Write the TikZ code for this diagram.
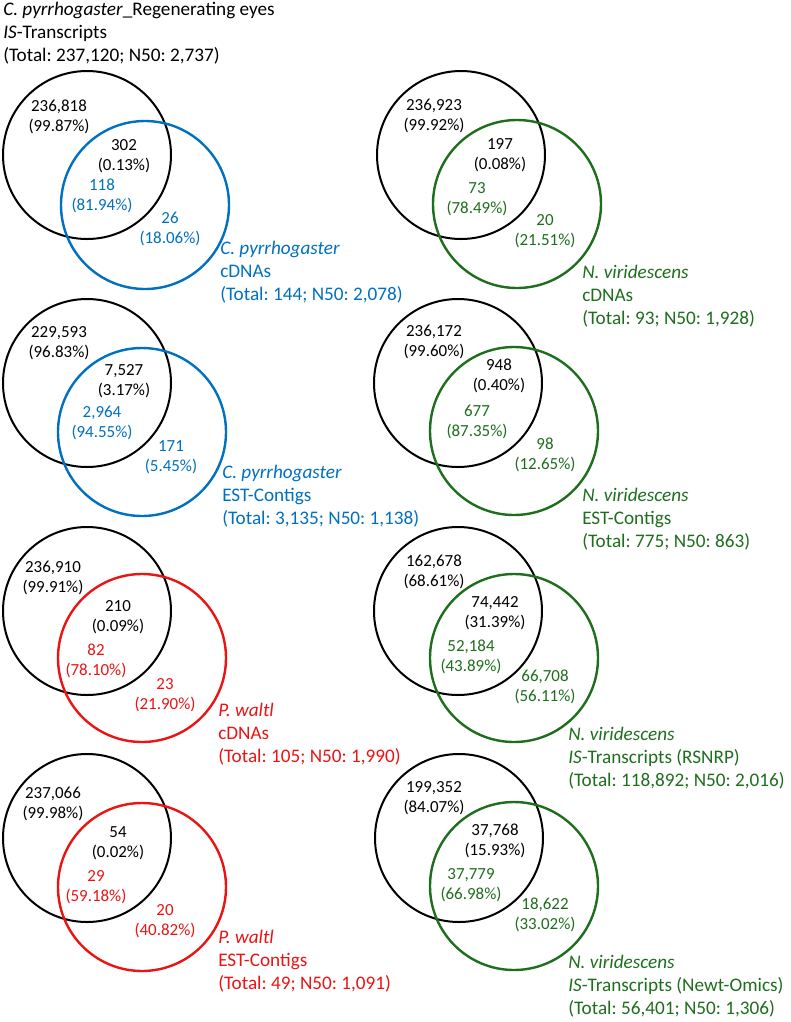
\documentclass[tikz,border=0pt]{standalone}
\usepackage{fontspec}
\setmainfont{Carlito}
\definecolor{vblue}{RGB}{0,112,192}
\definecolor{vgreen}{RGB}{30,110,30}
\definecolor{vred}{RGB}{235,20,20}
\newcommand\vnnumfont{\fontsize{12.7}{15.3}\selectfont}
\newcommand\vnlabfont{\fontsize{14.4}{17}\selectfont}
\frenchspacing
\begin{document}
\begin{tikzpicture}[x=0.75pt,y=-0.75pt,
  bc/.style={circle,draw=black,line width=1.5pt,minimum size=126pt,inner sep=0pt},
  cc/.style={circle,line width=1.8pt,minimum size=126pt,inner sep=0pt},
  num/.style={align=center,font=\vnnumfont,inner sep=0pt},
  lab/.style={align=left,anchor=west,font=\vnlabfont,inner sep=0pt}]
\fill[white] (0,0) rectangle (790,1022);
\useasboundingbox (0,0) rectangle (790,1022);

% header
\node[lab] (hd) at (3,33) {\textit{C. pyrrhogaster}\_Regenerating eyes\\\textit{IS}-Transcripts\\(Total: 237,120; N50: 2,737)};

% Panel L1
\node[bc] (L1a) at (87,155) {};
\node[cc,draw=vblue] (L1b) at (145,205) {};
\node[num] (L1n1) at (59,117) {236,818\\(99.87\%)};
\node[num] (L1n2) at (124,156) {302\\(0.13\%)};
\node[num,text=vblue] (L1n3) at (102,196) {118\\(81.94\%)};
\node[num,text=vblue] (L1n4) at (170,229) {26\\(18.06\%)};
\node[lab,text=vblue] (L1l) at (220,272) {\textit{C. pyrrhogaster}\\cDNAs\\(Total: 144; N50: 2,078)};

% Panel R1
\node[bc] (R1a) at (461,155) {};
\node[cc,draw=vgreen] (R1b) at (517,204) {};
\node[num] (R1n1) at (434,116) {236,923\\(99.92\%)};
\node[num] (R1n2) at (500,155) {197\\(0.08\%)};
\node[num,text=vgreen] (R1n3) at (477,199) {73\\(78.49\%)};
\node[num,text=vgreen] (R1n4) at (545,231) {20\\(21.51\%)};
\node[lab,text=vgreen] (R1l) at (582,296) {\textit{N. viridescens}\\cDNAs\\(Total: 93; N50: 1,928)};

% Panel L2
\node[bc] (L2a) at (87,383) {};
\node[cc,draw=vblue] (L2b) at (142,432) {};
\node[num] (L2n1) at (59,343) {229,593\\(96.83\%)};
\node[num] (L2n2) at (124,381) {7,527\\(3.17\%)};
\node[num,text=vblue] (L2n3) at (102,423) {2,964\\(94.55\%)};
\node[num,text=vblue] (L2n4) at (171,457) {171\\(5.45\%)};
\node[lab,text=vblue] (L2l) at (222,496) {\textit{C. pyrrhogaster}\\EST-Contigs\\(Total: 3,135; N50: 1,138)};

% Panel R2
\node[bc] (R2a) at (458,383) {};
\node[cc,draw=vgreen] (R2b) at (514,431) {};
\node[num] (R2n1) at (434,342) {236,172\\(99.60\%)};
\node[num] (R2n2) at (499,376) {948\\(0.40\%)};
\node[num,text=vgreen] (R2n3) at (477,422) {677\\(87.35\%)};
\node[num,text=vgreen] (R2n4) at (545,455) {98\\(12.65\%)};
\node[lab,text=vgreen] (R2l) at (582,519) {\textit{N. viridescens}\\EST-Contigs\\(Total: 775; N50: 863)};

% Panel L3
\node[bc] (L3a) at (87,611) {};
\node[cc,draw=vred] (L3b) at (142,658) {};
\node[num] (L3n1) at (53,578) {236,910\\(99.91\%)};
\node[num] (L3n2) at (118,617) {210\\(0.09\%)};
\node[num,text=vred] (L3n3) at (96,661) {82\\(78.10\%)};
\node[num,text=vred] (L3n4) at (165,695) {23\\(21.90\%)};
\node[lab,text=vred] (L3l) at (218,734) {\textit{P. waltl}\\cDNAs\\(Total: 105; N50: 1,990)};

% Panel R3
\node[bc] (R3a) at (458,611) {};
\node[cc,draw=vgreen] (R3b) at (514,658) {};
\node[num] (R3n1) at (434,572) {162,678\\(68.61\%)};
\node[num] (R3n2) at (495,613) {74,442\\(31.39\%)};
\node[num,text=vgreen] (R3n3) at (471,657) {52,184\\(43.89\%)};
\node[num,text=vgreen] (R3n4) at (545,687) {66,708\\(56.11\%)};
\node[lab,text=vgreen] (R3l) at (568,758) {\textit{N. viridescens}\\\textit{IS}-Transcripts (RSNRP)\\(Total: 118,892; N50: 2,016)};

% Panel L4
\node[bc] (L4a) at (87,838) {};
\node[cc,draw=vred] (L4b) at (142,887) {};
\node[num] (L4n1) at (53,804) {237,066\\(99.98\%)};
\node[num] (L4n2) at (118,843) {54\\(0.02\%)};
\node[num,text=vred] (L4n3) at (96,887) {29\\(59.18\%)};
\node[num,text=vred] (L4n4) at (165,921) {20\\(40.82\%)};
\node[lab,text=vred] (L4l) at (218,961) {\textit{P. waltl}\\EST-Contigs\\(Total: 49; N50: 1,091)};

% Panel R4
\node[bc] (R4a) at (459,838) {};
\node[cc,draw=vgreen] (R4b) at (514,886) {};
\node[num] (R4n1) at (434,798) {199,352\\(84.07\%)};
\node[num] (R4n2) at (495,841) {37,768\\(15.93\%)};
\node[num,text=vgreen] (R4n3) at (471,885) {37,779\\(66.98\%)};
\node[num,text=vgreen] (R4n4) at (545,915) {18,622\\(33.02\%)};
\node[lab,text=vgreen] (R4l) at (568,986) {\textit{N. viridescens}\\\textit{IS}-Transcripts (Newt-Omics)\\(Total: 56,401; N50: 1,306)};
\end{tikzpicture}
\end{document}
